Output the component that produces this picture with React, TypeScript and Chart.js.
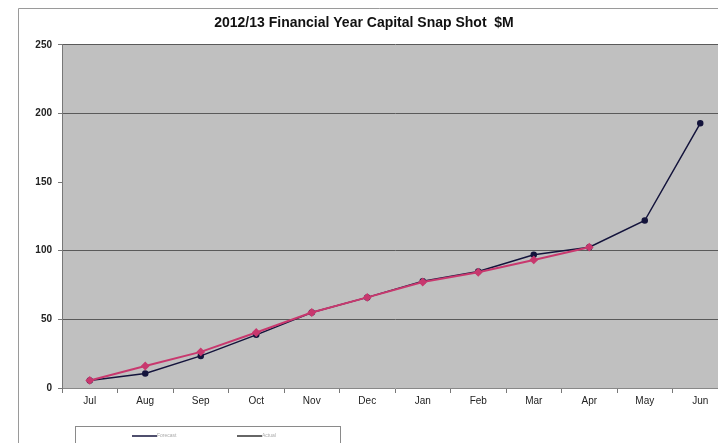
import React, { useEffect, useRef } from "react";
import { Chart, registerables } from "chart.js";

Chart.register(...registerables);

const months = ["Jul", "Aug", "Sep", "Oct", "Nov", "Dec", "Jan", "Feb", "Mar", "Apr", "May", "Jun"];
const forecastValues = [5.5, 10.5, 23.4, 38.7, 55, 66, 77.7, 84.8, 97, 102.6, 122, 192.8];
const actualValues = [5.5, 16, 26.3, 40.4, 55, 66, 77.2, 84.3, 93.3, 102.6, null, null];
const seriesNames = ["Forecast", "Actual"];
const yTicks = [0, 50, 100, 150, 200, 250];
const titleText = "2012/13 Financial Year Capital Snap Shot  $M";

const FONT = "'Liberation Sans', Arial, sans-serif";

const decorPlugin = {
  id: "decor",
  beforeDraw(chart: any) {
    const { ctx, chartArea } = chart;
    ctx.save();
    ctx.fillStyle = "#c0c0c0";
    ctx.fillRect(chartArea.left, chartArea.top, chartArea.right - chartArea.left, chartArea.bottom - chartArea.top);
    ctx.strokeStyle = "#9a9a9a";
    ctx.lineWidth = 1;
    ctx.beginPath();
    ctx.moveTo(18.5, 460);
    ctx.lineTo(18.5, 8.5);
    ctx.lineTo(760, 8.5);
    ctx.stroke();
    ctx.restore();
  },
  afterDraw(chart: any) {
    const { ctx } = chart;
    ctx.save();
    ctx.strokeStyle = "#8a8a8a";
    ctx.lineWidth = 1;
    ctx.strokeRect(75.5, 426.5, 265, 40);
    const colors = ["#14143c", "#333333"];
    const xs = [132, 237];
    for (let i = 0; i < 2; i++) {
      ctx.strokeStyle = colors[i];
      ctx.lineWidth = 1.5;
      ctx.beginPath();
      ctx.moveTo(xs[i], 436);
      ctx.lineTo(xs[i] + 25, 436);
      ctx.stroke();
      ctx.fillStyle = "#aaaaaa";
      ctx.font = `5px ${FONT}`;
      ctx.textBaseline = "middle";
      ctx.fillText(seriesNames[i], xs[i] + 25, 436);
    }
    ctx.restore();
  },
};

export default function App() {
  const ref = useRef<HTMLCanvasElement>(null);
  useEffect(() => {
    document.body.style.margin = "0";
    document.body.style.overflow = "hidden";
    const chart = new Chart(ref.current!, {
      type: "line",
      data: {
        labels: months,
        datasets: [
          {
            label: seriesNames[0],
            data: forecastValues,
            borderColor: "#14143c",
            backgroundColor: "#14143c",
            borderWidth: 1.5,
            pointRadius: 2.5,
            pointStyle: "circle",
            order: 1,
          },
          {
            label: seriesNames[1],
            data: actualValues,
            borderColor: "#c8386e",
            backgroundColor: "#c8386e",
            borderWidth: 2,
            pointRadius: 3,
            pointStyle: "rectRot",
            order: 0,
          },
        ],
      },
      options: {
        responsive: false,
        animation: false,
        layout: { padding: { left: 0, right: 12, top: 0, bottom: 0 } },
        plugins: {
          legend: { display: false },
          tooltip: { enabled: false },
          title: {
            display: true,
            text: titleText,
            color: "#111",
            font: { family: FONT, size: 14, weight: "bold" },
            padding: { top: 15, bottom: 13 },
          },
        },
        scales: {
          x: {
            type: "category",
            offset: true,
            grid: { display: true, drawOnChartArea: false, offset: true, tickLength: 5, color: "#777" },
            border: { color: "#888" },
            ticks: { color: "#222", font: { family: FONT, size: 10 }, padding: 2, maxRotation: 0 },
            afterFit: (s: any) => { s.height = 55; },
          },
          y: {
            min: 0,
            max: 250,
            afterBuildTicks: (s: any) => { s.ticks = yTicks.map((v) => ({ value: v })); },
            grid: {
              color: (c: any) => (c.tick && (c.tick.value === 150 || c.tick.value === 0) ? "rgba(0,0,0,0)" : "#5a5a5a"),
              tickColor: "#777",
              tickLength: 4,
            },
            border: { color: "#777" },
            ticks: { color: "#222", font: { family: FONT, size: 10, weight: "bold" }, padding: 6 },
            afterFit: (s: any) => { s.width = 62; },
          },
        },
      },
      plugins: [decorPlugin],
    });
    return () => chart.destroy();
  }, []);
  return (
    <div style={{ position: "fixed", left: 0, top: 0, width: 718, height: 443, overflow: "hidden", background: "#fff" }}>
      <canvas ref={ref} width={740} height={443} style={{ display: "block" }} />
    </div>
  );
}
